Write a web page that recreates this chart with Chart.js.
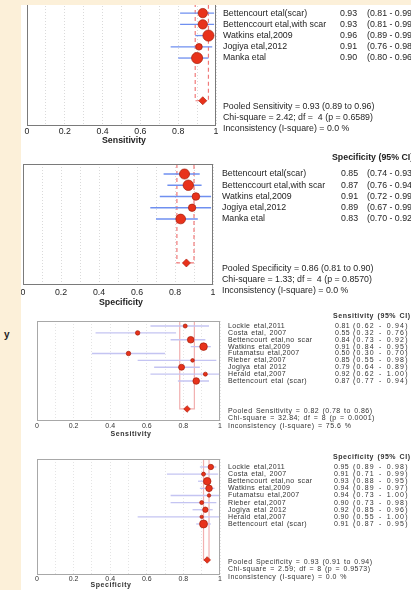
<!DOCTYPE html>
<html lang="en">
<head>
<meta charset="UTF-8">
<title>Forest plots: sensitivity and specificity</title>
<script src="https://cdn.jsdelivr.net/npm/chart.js"></script>
<style>
  html, body { margin: 0; padding: 0; background: #fff; }
  body { width: 411px; height: 590px; position: relative; overflow: hidden; }
  canvas { position: absolute; left: 0; }
  .beige { position: absolute; background: #fcf0d9; z-index: 5; }
  #stray { position: absolute; left: 4px; top: 329px; font: bold 10px "Liberation Sans", Arial, sans-serif; color: #222; z-index: 6; }
</style>
</head>
<body>
<div class="beige" style="left:0;top:0;width:21px;height:590px"></div>
<div class="beige" style="left:0;top:0;width:411px;height:5px"></div>
<span id="stray">y</span>
<canvas id="plot1" width="411" height="150" style="top:0px"></canvas>
<canvas id="plot2" width="411" height="162" style="top:148px"></canvas>
<canvas id="plot3" width="411" height="140" style="top:306px"></canvas>
<canvas id="plot4" width="411" height="144" style="top:446px"></canvas>

<script>
// --- 5 studies (top two plots)
const studies5 = ["Bettencourt etal(scar)", "Bettenccourt etal,with scar", "Watkins etal,2009", "Jogiya etal,2012", "Manka etal"];

const sens5 = [0.93, 0.93, 0.96, 0.91, 0.90];
const sens5Lo = [0.81, 0.81, 0.89, 0.76, 0.80];
const sens5Hi = [0.99, 0.99, 0.99, 0.98, 0.96];
const sens5Weight = [12, 12, 17, 6, 17];
const sens5Pooled = [0.93, 0.89, 0.96];
const sens5Stats = ["Pooled Sensitivity = 0.93 (0.89 to 0.96)", "Chi-square = 2.42; df =  4 (p = 0.6589)", "Inconsistency (I-square) = 0.0 %"];

const spec5 = [0.85, 0.87, 0.91, 0.89, 0.83];
const spec5Lo = [0.74, 0.76, 0.72, 0.67, 0.70];
const spec5Hi = [0.93, 0.94, 0.99, 0.99, 0.92];
const spec5Weight = [14, 15, 8, 7.5, 13];
const spec5Pooled = [0.86, 0.81, 0.90];
const spec5Stats = ["Pooled Specificity = 0.86 (0.81 to 0.90)", "Chi-square = 1.33; df =  4 (p = 0.8570)", "Inconsistency (I-square) = 0.0 %"];

// --- 9 studies (bottom two plots)
const studies9 = ["Lockie etal,2011", "Costa etal, 2007", "Bettencourt etal,no scar", "Watkins etal,2009", "Futamatsu etal,2007", "Rieber etal,2007", "Jogiya etal 2012", "Herald etal,2007", "Bettencourt etal (scar)"];

const sens9 = [0.81, 0.55, 0.84, 0.91, 0.50, 0.85, 0.79, 0.92, 0.87];
const sens9Lo = [0.62, 0.32, 0.73, 0.84, 0.30, 0.55, 0.64, 0.62, 0.77];
const sens9Hi = [0.94, 0.76, 0.92, 0.95, 0.70, 0.98, 0.89, 1.00, 0.94];
const sens9Weight = [4, 5, 11, 14.5, 5, 3.3, 9, 4, 11];
const sens9Pooled = [0.82, 0.78, 0.86];
const sens9Stats = ["Pooled Sensitivity = 0.82 (0.78 to 0.86)", "Chi-square = 32.84; df = 8 (p = 0.0001)", "Inconsistency (I-square) = 75.6 %"];

const spec9 = [0.95, 0.91, 0.93, 0.94, 0.94, 0.90, 0.92, 0.90, 0.91];
const spec9Lo = [0.89, 0.71, 0.88, 0.89, 0.73, 0.73, 0.85, 0.55, 0.87];
const spec9Hi = [0.98, 0.99, 0.95, 0.97, 1.00, 0.98, 0.96, 1.00, 0.95];
const spec9Weight = [7.3, 4, 14.5, 11, 3, 4, 7.3, 3, 16];
const spec9Pooled = [0.93, 0.91, 0.94];
const spec9Stats = ["Pooled Specificity = 0.93 (0.91 to 0.94)", "Chi-square = 2.59; df = 8 (p = 0.9573)", "Inconsistency (I-square) = 0.0 %"];

const xTickLabels = ["0", "0.2", "0.4", "0.6", "0.8", "1"];

const FONT = '"Liberation Sans", Arial, sans-serif';

function forestPlot(id, p) {
    const n = p.est.length;
    const datasets = [];

    // confidence interval whiskers, one per study
    for (let i = 0; i < n; i++) {
        datasets.push({
            data: [{ x: p.lo[i], y: i + 1 }, { x: p.hi[i], y: i + 1 }],
            showLine: true, borderColor: p.ciColor, borderWidth: p.ciWidth,
            pointRadius: 0, order: 3
        });
    }

    // pooled CI guide lines (up to the box top, across at diamond level)
    const pe = p.pooled[0], plo = p.pooled[1], phi = p.pooled[2];
    datasets.push({
        data: [{ x: plo, y: p.yMin }, { x: plo, y: p.pooledRow }, { x: phi, y: p.pooledRow }, { x: phi, y: p.yMin }],
        showLine: true, borderColor: p.guideColor, borderDash: p.guideDash, borderWidth: p.guideWidth,
        pointRadius: 0, order: 4
    });

    // study point estimates, size by weight
    datasets.push({
        data: p.est.map((e, i) => ({ x: e, y: i + 1 })),
        pointRadius: p.weight.map(w => p.rScale * Math.sqrt(w)),
        backgroundColor: '#e8321b', borderColor: '#a41c08', borderWidth: 0.7,
        clip: false, order: 1
    });

    // pooled diamond
    datasets.push({
        data: [{ x: pe, y: p.pooledRow }],
        pointStyle: 'rectRot', pointRadius: p.diamond,
        backgroundColor: '#e8321b', borderColor: '#b02010', borderWidth: 0.7,
        clip: false, order: 0
    });

    const decor = {
        id: 'decor' + id,
        afterDatasetsDraw(chart) {
            const a = chart.chartArea;
            const ctx = chart.ctx;
            ctx.save();
            ctx.strokeStyle = p.boxColor;
            ctx.lineWidth = 1;
            ctx.strokeRect(a.left + 0.5, a.top + 0.5, a.right - a.left - 1, a.bottom - a.top - 1);
            ctx.restore();
        },
        afterDraw(chart) {
            const ctx = chart.ctx;
            const ys = chart.scales.y;
            ctx.save();
            ctx.fillStyle = p.textColor;
            ctx.textBaseline = 'middle';
            ctx.textAlign = 'left';
            ctx.font = p.fontSize + 'px ' + FONT;
            ctx.letterSpacing = p.spacing + 'px';
            ctx.wordSpacing = p.wordSpacing + 'px';
            p.names.forEach((name, i) => {
                const y = ys.getPixelForValue(i + 1);
                ctx.fillText(name, p.labelX, y);
                ctx.fillText(p.est[i].toFixed(2), p.valX, y);
            });

            // CI column, a little more widely set
            ctx.letterSpacing = p.ciSpacing + 'px';
            p.names.forEach((name, i) => {
                const y = ys.getPixelForValue(i + 1);
                ctx.fillText('(' + p.lo[i].toFixed(2) + ' - ' + p.hi[i].toFixed(2) + ')', p.ciX, y);
            });

            // summary lines under the study list
            ctx.letterSpacing = p.statSpacing + 'px';
            const yd = ys.getPixelForValue(p.pooledRow);
            p.stats.forEach((s, k) => ctx.fillText(s, p.labelX, yd + p.statOffsets[k]));

            ctx.letterSpacing = p.headerSpacing + 'px';
            ctx.font = 'bold ' + p.fontSize + 'px ' + FONT;
            ctx.fillText(p.header, p.headerX, p.headerY - p.top);
            ctx.textAlign = 'center';
            ctx.fillText(p.title, p.titleX, p.titleY - p.top);
            ctx.restore();
        }
    };

    new Chart(document.getElementById(id), {
        type: 'scatter',
        data: { datasets: datasets },
        options: {
            responsive: false,
            animation: false,
            devicePixelRatio: 1,
            events: [],
            layout: {
                autoPadding: false,
                padding: { left: p.boxLeft, right: 411 - p.boxRight, top: p.boxTop - p.top, bottom: 0 }
            },
            plugins: { legend: { display: false }, tooltip: { enabled: false } },
            scales: {
                x: {
                    type: 'linear', position: 'bottom', min: 0, max: 1,
                    afterFit: s => { s.height = p.height - (p.boxBottom - p.top); },
                    ticks: {
                        stepSize: 0.1, autoSkip: false, maxRotation: 0, padding: p.tickPad,
                        color: p.textColor, font: { family: FONT, size: p.fontSize },
                        callback: v => {
                            const k = Math.round(v * 10);
                            return k % 2 ? '' : xTickLabels[k / 2];
                        }
                    },
                    grid: { color: p.gridColor, lineWidth: 1, drawTicks: false },
                    border: { display: false, dash: [1, 2] }
                },
                y: { type: 'linear', display: false, reverse: true, min: p.yMin, max: p.yMax }
            }
        },
        plugins: [decor]
    });
}

const bigStyle = {
    fontSize: 8.8, spacing: 0, wordSpacing: 0, ciSpacing: 0, statSpacing: 0, headerSpacing: 0, textColor: '#1e1e1e',
    ciColor: '#6f8ff0', ciWidth: 1.3, guideColor: '#f07a7a', guideDash: [4, 3], guideWidth: 1.2,
    gridColor: '#dadada', boxColor: '#7a7a7a', rScale: 1.35, diamond: 4,
    statOffsets: [6, 17, 28]
};
const smallStyle = {
    fontSize: 7, spacing: 0.35, wordSpacing: 1, ciSpacing: 1.2, statSpacing: 0.45, headerSpacing: 0.55, textColor: '#333333',
    ciColor: '#c4c4f2', ciWidth: 1.3, guideColor: '#f2b0b0', guideDash: [], guideWidth: 1.2,
    gridColor: '#e4e4e4', boxColor: '#a8a8a8', rScale: 1.0, diamond: 3.3,
    statOffsets: [2, 9, 17]
};

forestPlot('plot1', Object.assign({}, bigStyle, {
    names: studies5, est: sens5, lo: sens5Lo, hi: sens5Hi, weight: sens5Weight, pooled: sens5Pooled, stats: sens5Stats,
    header: 'Sensitivity (95% CI)', title: 'Sensitivity',
    top: 0, height: 150, boxTop: 3, boxBottom: 126, boxLeft: 27, boxRight: 216,
    yMin: 0.1, yMax: 11.05, pooledRow: 8.8, tickPad: 0,
    labelX: 223, valX: 340, ciX: 367, headerX: 333, headerY: -3, titleX: 124, titleY: 141
}));

forestPlot('plot2', Object.assign({}, bigStyle, {
    names: studies5, est: spec5, lo: spec5Lo, hi: spec5Hi, weight: spec5Weight, pooled: spec5Pooled, stats: spec5Stats,
    header: 'Specificity (95% CI)', title: 'Specificity',
    top: 148, height: 162, boxTop: 164, boxBottom: 285, boxLeft: 23, boxRight: 213,
    yMin: 0.11, yMax: 10.87, pooledRow: 8.91, tickPad: 2,
    labelX: 222, valX: 341, ciX: 367, headerX: 332, headerY: 158, titleX: 121, titleY: 303
}));

forestPlot('plot3', Object.assign({}, smallStyle, {
    names: studies9, est: sens9, lo: sens9Lo, hi: sens9Hi, weight: sens9Weight, pooled: sens9Pooled, stats: sens9Stats,
    header: 'Sensitivity (95% CI)', title: 'Sensitivity',
    top: 306, height: 140, boxTop: 321, boxBottom: 421, boxLeft: 37, boxRight: 220,
    yMin: 0.27, yMax: 14.82, pooledRow: 13.07, tickPad: 1,
    labelX: 228, valX: 335, ciX: 353, headerX: 333, headerY: 316, titleX: 131, titleY: 434
}));

forestPlot('plot4', Object.assign({}, smallStyle, {
    names: studies9, est: spec9, lo: spec9Lo, hi: spec9Hi, weight: spec9Weight, pooled: spec9Pooled, stats: spec9Stats,
    header: 'Specificity (95% CI)', title: 'Specificity',
    top: 446, height: 144, boxTop: 459, boxBottom: 575, boxLeft: 37, boxRight: 220,
    yMin: -0.12, yMax: 16.16, pooledRow: 14.05, tickPad: 0,
    labelX: 228, valX: 334, ciX: 353, headerX: 333, headerY: 457, titleX: 111, titleY: 585
}));
</script>
</body>
</html>
